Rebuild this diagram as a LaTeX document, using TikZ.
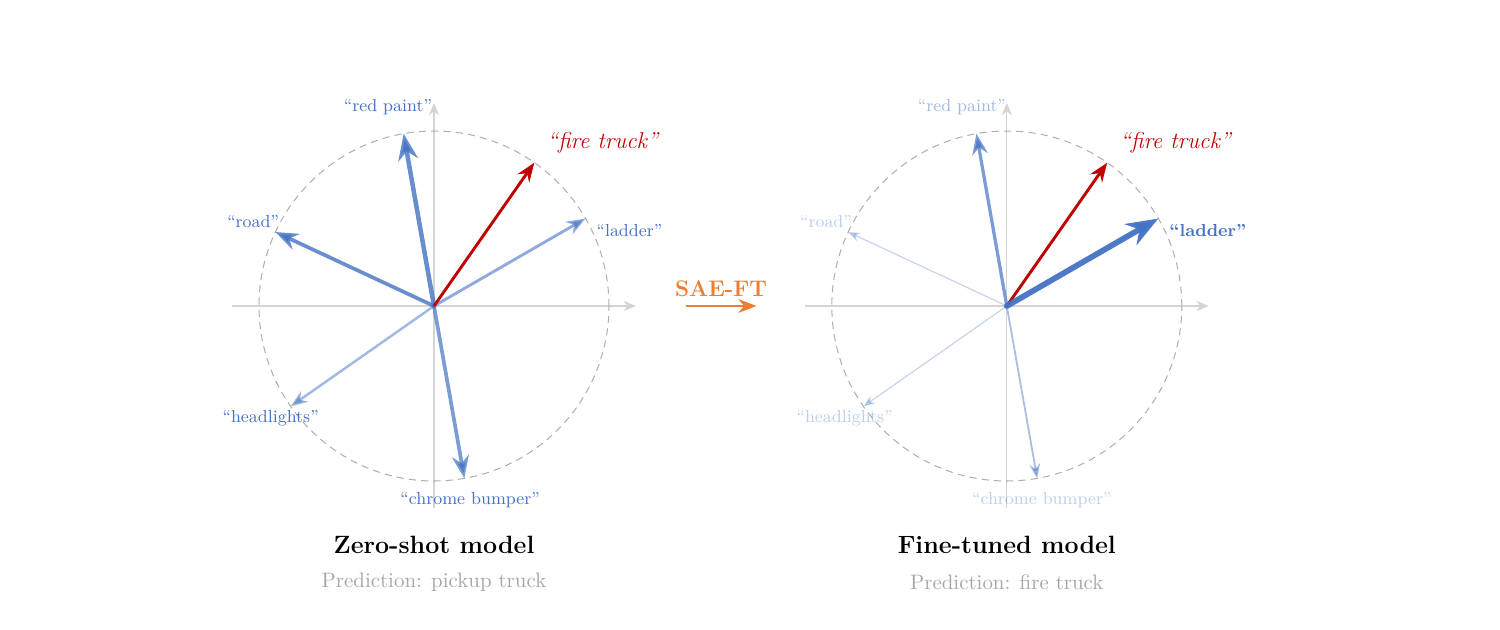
\documentclass[tikz,border=0pt]{standalone}
\usepackage{tikz}
\usetikzlibrary{arrows.meta}
\usepackage{xcolor}

\definecolor{vecblue}{HTML}{4472C4}
\definecolor{vecred}{HTML}{C00000}
\definecolor{saeorange}{HTML}{ED7D31}
\definecolor{axisgray}{HTML}{D4D4D4}
\definecolor{circgray}{HTML}{AFAFAF}
\definecolor{predgray}{HTML}{A6A6A6}

\tikzset{
  axisline/.style={draw=axisgray, line width=0.5pt},
  axisarrow/.style={axisline, -{Stealth[length=6pt, width=5pt]}},
  unitcircle/.style={draw=circgray, line width=0.5pt, dash pattern=on 3.5pt off 2.5pt},
  vec/.style={draw=vecblue, -{Stealth}, line cap=round},
  firevec/.style={draw=vecred, line width=1.4pt, -{Stealth}},
  lbl/.style={inner sep=0pt, text=vecblue, font=\fontsize{8.5}{10}\selectfont},
  firelbl/.style={inner sep=0pt, text=vecred, font=\fontsize{11.2}{13}\selectfont\itshape},
  paneltitle/.style={inner sep=0pt, font=\fontsize{12.2}{14}\selectfont\bfseries},
  predlbl/.style={inner sep=0pt, text=predgray, font=\fontsize{10.2}{12}\selectfont}
}

\begin{document}
\begin{tikzpicture}
    \useasboundingbox (-7.44,-5.554) rectangle (18.275,5.246);

    % Zero-shot model
    \begin{scope}
        \coordinate (zo) at (0,0);
        \coordinate (zxl) at (-3.46,0);
        \coordinate (zxr) at (3.46,0);
        \coordinate (zyb) at (0,-3.46);
        \coordinate (zyt) at (0,3.48);
        \draw[axisarrow] (zxl) -- (zxr);
        \draw[axisarrow] (zyb) -- (zyt);
        \draw[unitcircle] (zo) circle (3);

        \coordinate (zred) at (100:3);
        \coordinate (zfire) at (55:3);
        \coordinate (zladder) at (30:3);
        \coordinate (zroad) at (155:3);
        \coordinate (zhead) at (215:3);
        \coordinate (zchrome) at (280:3);

        \draw[vec, line width=1.2pt, opacity=0.5] (zo) -- (zhead);
        \draw[vec, line width=1.4pt, opacity=0.6] (zo) -- (zladder);
        \draw[vec, line width=1.8pt, opacity=0.7] (zo) -- (zchrome);
        \draw[vec, line width=1.8pt, opacity=0.8] (zo) -- (zroad);
        \draw[vec, line width=2.2pt, opacity=0.8] (zo) -- (zred);
        \draw[firevec] (zo) -- (zfire);

        \node[lbl] (zredlbl) at (-0.79,3.41) {``red paint''};
        \node[firelbl] (zfirelbl) at (2.89,2.79) {``fire truck''};
        \node[lbl, anchor=west] (zladderlbl) at (2.78,1.30) {``ladder''};
        \node[lbl] (zroadlbl) at (-3.10,1.44) {``road''};
        \node[lbl] (zheadlbl) at (-2.80,-1.92) {``headlights''};
        \node[lbl] (zchromelbl) at (0.62,-3.33) {``chrome bumper''};

        \node[paneltitle] (ztitle) at (0,-4.10) {Zero-shot model};
        \node[predlbl] (zpred) at (0,-4.73) {Prediction: pickup truck};
    \end{scope}

    % SAE-FT
    \node[inner sep=0pt, text=saeorange, font=\fontsize{11}{13}\selectfont\bfseries] (sae) at (4.92,0.30) {SAE-FT};
    \coordinate (saefrom) at (4.32,0);
    \coordinate (saeto) at (5.53,0);
    \draw[draw=saeorange, line width=1.3pt, -{Stealth}] (saefrom) -- (saeto);

    % Fine-tuned model
    \begin{scope}[xshift=9.82cm]
        \coordinate (fo) at (0,0);
        \coordinate (fxl) at (-3.46,0);
        \coordinate (fxr) at (3.46,0);
        \coordinate (fyb) at (0,-3.46);
        \coordinate (fyt) at (0,3.48);
        \draw[axisarrow] (fxl) -- (fxr);
        \draw[axisarrow] (fyb) -- (fyt);
        \draw[unitcircle] (fo) circle (3);

        \coordinate (fred) at (100:3);
        \coordinate (ffire) at (55:3);
        \coordinate (fladder) at (30:3);
        \coordinate (froad) at (155:3);
        \coordinate (fhead) at (215:3);
        \coordinate (fchrome) at (280:3);

        \draw[vec, line width=0.6pt, opacity=0.3] (fo) -- (fhead);
        \draw[vec, line width=0.6pt, opacity=0.3] (fo) -- (froad);
        \draw[vec, line width=0.9pt, opacity=0.45] (fo) -- (fchrome);
        \draw[vec, line width=1.6pt, opacity=0.7] (fo) -- (fred);
        \draw[firevec] (fo) -- (ffire);
        \draw[vec, line width=2.8pt, opacity=0.95] (fo) -- (fladder);

        \node[lbl, opacity=0.5] (fredlbl) at (-0.77,3.41) {``red paint''};
        \node[firelbl] (ffirelbl) at (2.89,2.79) {``fire truck''};
        \node[lbl, anchor=west, font=\fontsize{8.5}{10}\selectfont\bfseries] (fladderlbl) at (2.78,1.30) {``ladder''};
        \node[lbl, opacity=0.35] (froadlbl) at (-3.10,1.44) {``road''};
        \node[lbl, opacity=0.35] (fheadlbl) at (-2.78,-1.92) {``headlights''};
        \node[lbl, opacity=0.35] (fchromelbl) at (0.60,-3.33) {``chrome bumper''};

        \node[paneltitle] (ftitle) at (0,-4.10) {Fine-tuned model};
        \node[predlbl] (fpred) at (0,-4.73) {Prediction: fire truck};
    \end{scope}
\end{tikzpicture}
\end{document}
